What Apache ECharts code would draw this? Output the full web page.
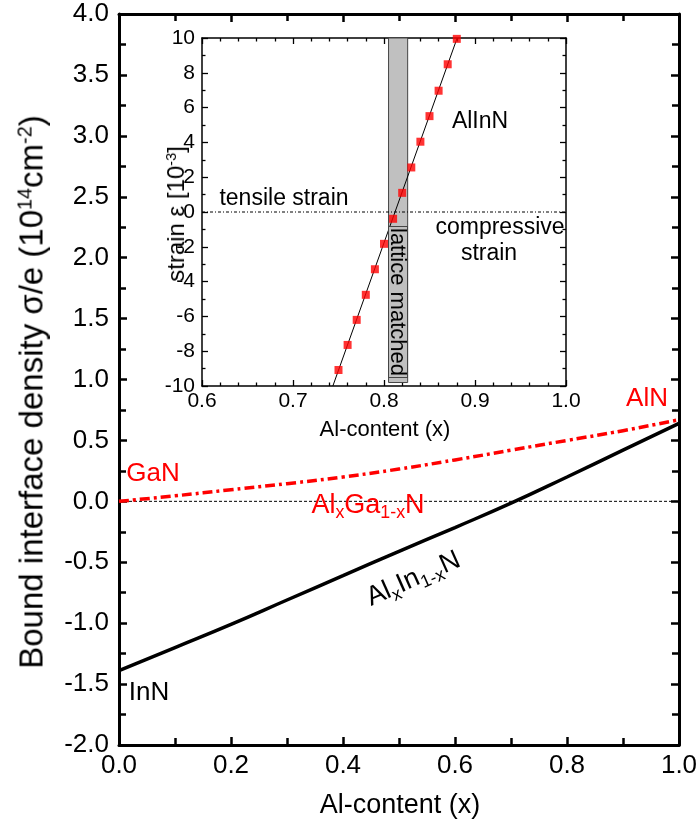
<!DOCTYPE html>
<html>
<head>
<meta charset="utf-8">
<script src="https://cdn.jsdelivr.net/npm/echarts@6/dist/echarts.min.js"></script>
<style>
  html, body { margin: 0; padding: 0; background: #fff; }
  #wrap { position: relative; width: 699px; height: 834px; }
  #chart { width: 699px; height: 834px; }
  .lbl {
    position: absolute; white-space: nowrap; line-height: 1; pointer-events: none;
    font-family: 'Liberation Sans', Arial, sans-serif;
  }
  .lbl sup { font-size: 0.6em; line-height: 0; vertical-align: 0.55em; }
  .lbl sub { font-size: 0.66em; line-height: 0; vertical-align: -0.3em; }
</style>
</head>
<body>
<div id="wrap">
  <div id="chart"></div>
  <div class="lbl" style="left:31px;top:392px;font-size:33px;transform:translate(-50%,-50%) rotate(-90deg);">Bound interface density σ/e (10<sup>14</sup>cm<sup>-2</sup>)</div>
  <div class="lbl" style="left:176px;top:214px;font-size:24px;transform:translate(-50%,-50%) rotate(-90deg);">strain ε [10<sup>-3</sup>]</div>
  <div class="lbl" style="left:398px;top:302px;font-size:22px;line-height:18px;background:#c0c0c0;border:1px solid #444;padding:0 1px;transform:translate(-50%,-50%) rotate(90deg);">lattice matched</div>
  <div class="lbl" style="left:368px;top:504px;font-size:27px;color:#ff0000;transform:translate(-50%,-50%);">Al<sub>x</sub>Ga<sub>1-x</sub>N</div>
  <div class="lbl" style="left:413px;top:578px;font-size:27px;color:#000;transform:translate(-50%,-50%) rotate(-24deg);">Al<sub>x</sub>In<sub>1-x</sub>N</div>
</div>
<script>
// main plot: bound interface density vs Al content
var alContent = [0, 0.1, 0.2, 0.3, 0.4, 0.5, 0.6, 0.7, 0.8, 0.9, 1.0];
var alInN = [-1.39, -1.20, -1.01, -0.81, -0.61, -0.41, -0.215, -0.015, 0.20, 0.42, 0.64];
var alGaN = [0, 0.045, 0.095, 0.145, 0.20, 0.265, 0.34, 0.42, 0.50, 0.58, 0.67];
var zeroX = [0, 1];

// inset: strain of AlInN
var insetX = [0.75, 0.76, 0.77, 0.78, 0.79, 0.80, 0.81, 0.82, 0.83, 0.84, 0.85, 0.86, 0.87, 0.88];
var insetStrain = [-9.08, -7.64, -6.20, -4.76, -3.29, -1.83, -0.39, 1.10, 2.56, 4.04, 5.51, 6.97, 8.49, 9.95];
var fitX = [0.7438, 0.8804];
var fitY = [-10, 10];
var insetZeroX = [0.6, 1.0];
var bandX = [0.805, 0.826];
var bandY = [-9.8, 10];

var FONT = 'Liberation Sans, Arial, sans-serif';

function pairs(xs, ys) {
    var out = [];
    for (var i = 0; i < xs.length; i++) out.push([xs[i], ys[i]]);
    return out;
}

function axis(grid, pos, min, max, interval, split, labels, big) {
    var w = big ? 3 : 1.5;
    return {
        type: 'value', gridIndex: grid, position: pos,
        min: min, max: max, interval: interval,
        axisLine: { show: true, onZero: false, lineStyle: { color: '#000', width: w } },
        axisTick: { show: true, inside: true, length: big ? 8 : 6, lineStyle: { color: '#000', width: big ? 2.5 : 1.3 } },
        minorTick: { show: true, splitNumber: split, length: big ? 7 : 3.5, lineStyle: { color: '#000', width: big ? 2.5 : 1.3 } },
        splitLine: { show: false },
        axisLabel: {
            show: labels, color: '#000', fontFamily: FONT,
            fontSize: big ? 26 : 21,
            margin: big ? (pos == 'bottom' ? 8 : 10) : (pos == 'bottom' ? 5 : 7),
            formatter: function (v) {
                if (!big && (pos == 'left' || pos == 'right')) return String(Math.round(v));
                return v.toFixed(1);
            }
        }
    };
}

function txt(x, y, text, size, color) {
    return {
        type: 'text', x: x, y: y, z: 100,
        style: { text: text, fill: color, fontSize: size, fontFamily: FONT, align: 'center', verticalAlign: 'middle' }
    };
}

var chart = echarts.init(document.getElementById('chart'));

var option = {
    animation: false,
    backgroundColor: '#fff',
    grid: [
        { left: 119, right: 20, top: 14, bottom: 89, outerBoundsMode: 'none' },
        { left: 202, right: 133, top: 38, bottom: 448, outerBoundsMode: 'none' }
    ],
    xAxis: [
        axis(0, 'bottom', 0, 1, 0.2, 2, true, true),
        axis(0, 'top', 0, 1, 0.2, 2, false, true),
        axis(1, 'bottom', 0.6, 1.0, 0.1, 5, true, false),
        axis(1, 'top', 0.6, 1.0, 0.1, 5, false, false)
    ],
    yAxis: [
        axis(0, 'left', -2, 4, 0.5, 2, true, true),
        axis(0, 'right', -2, 4, 0.5, 2, false, true),
        axis(1, 'left', -10, 10, 2, 2, true, false),
        axis(1, 'right', -10, 10, 2, 2, false, false)
    ],
    series: [
        {
            type: 'line', xAxisIndex: 0, yAxisIndex: 0, data: pairs(zeroX, [0, 0]),
            showSymbol: false, lineStyle: { color: '#000', width: 1, type: [3, 2] }
        },
        {
            type: 'line', xAxisIndex: 0, yAxisIndex: 0, data: pairs(alContent, alInN),
            showSymbol: false, smooth: true, lineStyle: { color: '#000', width: 3.5 }
        },
        {
            type: 'line', xAxisIndex: 0, yAxisIndex: 0, data: pairs(alContent, alGaN),
            showSymbol: false, smooth: true,
            lineStyle: { color: '#ff0000', width: 3.5, type: [10, 4, 3, 4] }
        },
        {
            type: 'line', xAxisIndex: 2, yAxisIndex: 2, data: pairs(insetZeroX, [0, 0]),
            showSymbol: false, lineStyle: { color: '#000', width: 1, type: [3, 2, 1, 2] },
            markArea: {
                silent: true,
                itemStyle: { color: '#c0c0c0', borderColor: '#444', borderWidth: 1 },
                data: [[{ coord: [bandX[0], bandY[0]] }, { coord: [bandX[1], bandY[1]] }]]
            }
        },
        {
            type: 'line', xAxisIndex: 2, yAxisIndex: 2, data: pairs(fitX, fitY),
            showSymbol: false, lineStyle: { color: '#000', width: 1 }, z: 3
        },
        {
            type: 'scatter', xAxisIndex: 2, yAxisIndex: 2, data: pairs(insetX, insetStrain),
            symbol: 'rect', symbolSize: 8, itemStyle: { color: '#ff0000' }, z: 4
        }
    ],
    graphic: [
        txt(400, 806, 'Al-content (x)', 27, '#000'),
        txt(385, 430, 'Al-content (x)', 22, '#000'),
        txt(284, 199, 'tensile strain', 23, '#000'),
        txt(500, 228, 'compressive', 23, '#000'),
        txt(489, 254, 'strain', 23, '#000'),
        txt(480, 122, 'AlInN', 23, '#000'),
        txt(153, 474, 'GaN', 26, '#ff0000'),
        txt(647, 399, 'AlN', 26, '#ff0000'),
        txt(149, 693, 'InN', 26, '#000')
    ]
};

chart.setOption(option);
</script>
</body>
</html>
